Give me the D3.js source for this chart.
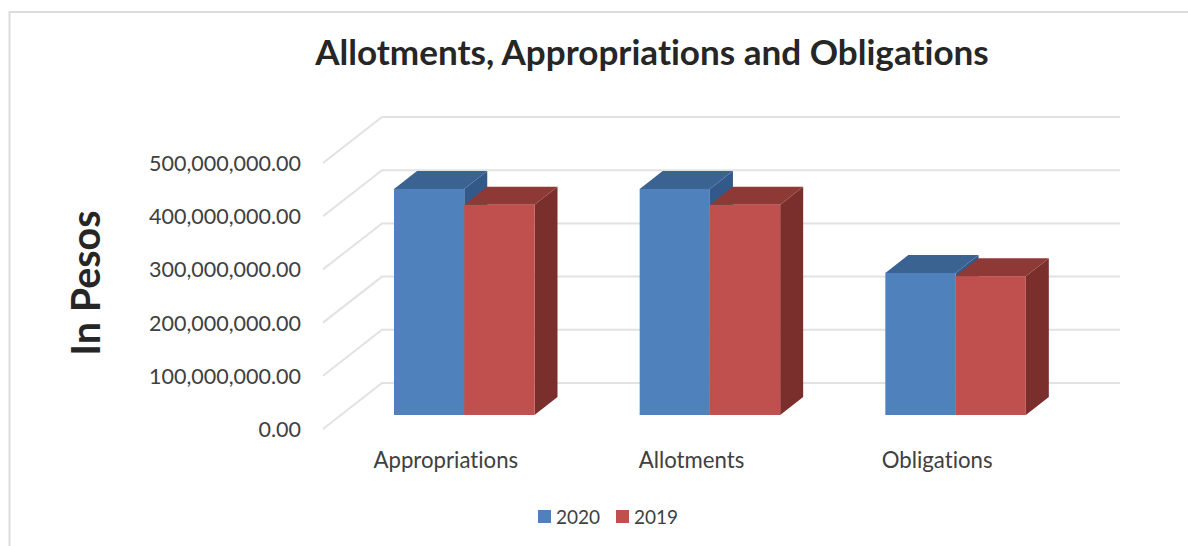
<!DOCTYPE html>
<html>
<head>
<meta charset="utf-8">
<script src="https://cdn.jsdelivr.net/npm/d3@7"></script>
<style>
  html, body { margin: 0; padding: 0; background: #fff; }
  svg { display: block; font-family: Lato, sans-serif; font-variant-ligatures: none; }
</style>
</head>
<body>
<svg id="chart" width="1188" height="546"></svg>
<script>
const categories = ["Appropriations", "Allotments", "Obligations"];
const seriesNames = ["2020", "2019"];
const values2020 = [425000000, 425000000, 267000000];
const values2019 = [395000000, 395000000, 261000000];
const tickValues = [0, 100000000, 200000000, 300000000, 400000000, 500000000];

const seriesValues = [values2020, values2019];
const faceColors = [
  { front: "#4f81bd", top: "#3a6392", side: "#33598a" },
  { front: "#c0504d", top: "#8f3936", side: "#7a2f2d" }
];

const svg = d3.select("#chart");

// Front edge of the floor; the back wall and the bars are offset from it in depth.
const x = d3.scaleBand().domain(categories).range([323, 1060]);
const y = d3.scaleLinear().domain([0, 500000000]).range([429, 163]);
const wall = { dx: 59, dy: -46 };
const barPlane = { dx: 19, dy: -14 };
const barDepth = { dx: 23, dy: -18 };

const inner = d3.scaleBand().domain(seriesNames)
  .range([52, 192.5]);

// Outer frame: top and left edges only
svg.append("path")
  .attr("d", d3.line()([[9.5, 546], [9.5, 12], [1188, 12]]))
  .attr("fill", "none").attr("stroke", "#dcdcdc").attr("stroke-width", 2);

// Gridlines run along the side wall and then along the back wall
svg.append("g").selectAll("path").data(tickValues).join("path")
  .attr("d", d => d3.line()([
    [x.range()[0], y(d)],
    [x.range()[0] + wall.dx, y(d) + wall.dy],
    [x.range()[1] + wall.dx + 1, y(d) + wall.dy]
  ]))
  .attr("fill", "none").attr("stroke", "#e2e2e2").attr("stroke-width", 2);

// Value axis labels
const yAxis = d3.axisLeft(y).tickValues(tickValues)
  .tickFormat(d3.format(",.2f")).tickSize(0).tickPadding(0);
const yG = svg.append("g").attr("transform", "translate(301,0)").call(yAxis);
yG.select(".domain").remove();
yG.selectAll("text").attr("font-size", 21.5).attr("fill", "#404040")
  .attr("font-family", "Lato, sans-serif").attr("dy", "0.35em");

// Category labels
const xAxis = d3.axisBottom(x).tickSize(0).tickPadding(0);
const xG = svg.append("g").attr("transform", "translate(0,452)").call(xAxis);
xG.select(".domain").remove();
xG.selectAll("text").attr("font-size", 22.2).attr("fill", "#404040")
  .attr("font-family", "Lato, sans-serif").attr("dy", "0.71em");

// 3D bars, drawn series by series so the right bar's top sits against the left bar's side
const bars = categories.flatMap((c, i) => seriesNames.map((s, j) => ({
  category: c, series: s, value: seriesValues[j][i], colors: faceColors[j]
})));

const barG = svg.append("g").selectAll("g").data(bars).join("g");
const geom = d => {
  const x0 = x(d.category) + inner(d.series) + barPlane.dx;
  const x1 = x0 + inner.bandwidth();
  const yb = y(0) + barPlane.dy;
  const yt = y(d.value) + barPlane.dy;
  return { x0, x1, yb, yt };
};
barG.append("path").attr("fill", d => d.colors.side).attr("d", d => {
  const g = geom(d);
  return d3.line()([[g.x1, g.yb], [g.x1 + barDepth.dx, g.yb + barDepth.dy],
    [g.x1 + barDepth.dx, g.yt + barDepth.dy], [g.x1, g.yt]]) + "Z";
});
barG.append("path").attr("fill", d => d.colors.top).attr("d", d => {
  const g = geom(d);
  return d3.line()([[g.x0, g.yt], [g.x0 + barDepth.dx, g.yt + barDepth.dy],
    [g.x1 + barDepth.dx, g.yt + barDepth.dy], [g.x1, g.yt]]) + "Z";
});
barG.append("rect").attr("fill", d => d.colors.front)
  .attr("x", d => geom(d).x0).attr("y", d => geom(d).yt)
  .attr("width", inner.bandwidth()).attr("height", d => geom(d).yb - geom(d).yt);

// Title and axis title
svg.append("text").attr("x", 652).attr("y", 65).attr("text-anchor", "middle")
  .attr("font-size", 35.1).attr("font-weight", 700).attr("fill", "#262626")
  .text("Allotments, Appropriations and Obligations");

svg.append("text").attr("transform", "translate(100,283) rotate(-90)")
  .attr("text-anchor", "middle").attr("font-size", 39.5).attr("font-weight", 700)
  .attr("fill", "#262626").text("In Pesos");

// Legend
const legendX = [538, 616];
const legend = svg.append("g").selectAll("g").data(seriesNames).join("g")
  .attr("transform", (d, i) => `translate(${legendX[i]},510)`);
legend.append("rect").attr("width", 13).attr("height", 13)
  .attr("fill", (d, i) => faceColors[i].front);
legend.append("text").attr("x", 18).attr("y", 13.5).attr("font-size", 19)
  .attr("fill", "#404040").text(d => d);
</script>
</body>
</html>
